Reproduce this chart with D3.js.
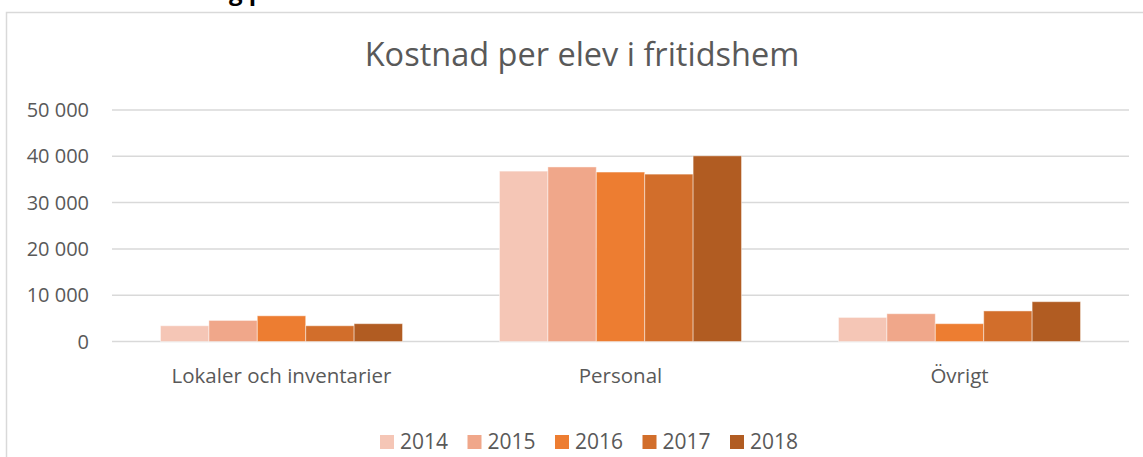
<!DOCTYPE html>
<html>
<head>
<meta charset="utf-8">
<script src="https://cdn.jsdelivr.net/npm/d3@7"></script>
<style>
    body { margin: 0; background: #fff; }
    svg text { font-family: "Open Sans", "Noto Sans", sans-serif; fill: #595959; }
</style>
</head>
<body>
<div class="bar_chart"></div>
<script>
// Data
const categories = ["Lokaler och inventarier", "Personal", "Övrigt"];
const years = ["2014", "2015", "2016", "2017", "2018"];
const values2014 = [3400, 36800, 5200];
const values2015 = [4550, 37700, 6000];
const values2016 = [5550, 36600, 3850];
const values2017 = [3400, 36150, 6600];
const values2018 = [3850, 40100, 8600];
const yTicks = [0, 10000, 20000, 30000, 40000, 50000];
const colors = ["#F5C6B6", "#F0A78A", "#ED7D31", "#D26E2B", "#B15C22"];

const series = [values2014, values2015, values2016, values2017, values2018];

function drawChart() {
    const width = 1143;
    const height = 457;
    const margin = { top: 110, right: 14, bottom: 115, left: 112 };

    const svg = d3.select(".bar_chart")
        .append("svg")
        .attr("width", width)
        .attr("height", height);

    // Chart area border (runs off the right and bottom)
    svg.append("rect")
        .attr("x", 6.5)
        .attr("y", 12.5)
        .attr("width", 1160)
        .attr("height", 480)
        .attr("fill", "none")
        .attr("stroke", "#D9D9D9")
        .attr("stroke-width", 1.5);

    // Heading above the chart, mostly outside the picture
    svg.append("text")
        .attr("x", 229)
        .attr("y", 0)
        .style("font-weight", "bold")
        .style("font-size", "24px")
        .style("fill", "#000")
        .text("g p");

    // Title
    svg.append("text")
        .attr("x", 582)
        .attr("y", 66)
        .attr("text-anchor", "middle")
        .style("font-size", "32.5px")
        .text("Kostnad per elev i fritidshem");

    const x0 = d3.scaleBand()
        .domain(categories)
        .range([margin.left, width - margin.right])
        .paddingInner(0.286)
        .paddingOuter(0.143);

    const x1 = d3.scaleBand()
        .domain(years)
        .range([0, x0.bandwidth()]);

    const y = d3.scaleLinear()
        .domain([0, 50000])
        .range([341.5, 110]);

    const fmt = d3.formatLocale({ thousands: "\u00a0", grouping: [3], decimal: ",", currency: ["", ""] }).format(",d");

    // Gridlines
    svg.append("g")
        .selectAll("line")
        .data(yTicks)
        .join("line")
        .attr("x1", margin.left)
        .attr("x2", width - margin.right)
        .attr("y1", d => y(d))
        .attr("y2", d => y(d))
        .attr("stroke", "#D9D9D9")
        .attr("stroke-width", 1.5);

    // Y labels
    svg.append("g")
        .selectAll("text")
        .data(yTicks)
        .join("text")
        .attr("x", 89)
        .attr("y", d => y(d))
        .attr("dy", "0.35em")
        .attr("text-anchor", "end")
        .style("font-size", "20px")
        .text(d => fmt(d));

    // Bars
    const groups = svg.append("g")
        .selectAll("g")
        .data(categories)
        .join("g")
        .attr("transform", d => `translate(${x0(d)},0)`);

    groups.selectAll("rect")
        .data((c, ci) => years.map((yr, i) => ({ year: yr, value: series[i][ci], i })))
        .join("rect")
        .attr("x", d => x1(d.year))
        .attr("y", d => y(d.value))
        .attr("width", x1.bandwidth())
        .attr("height", d => y(0) - y(d.value))
        .attr("fill", d => colors[d.i])
        .attr("stroke", "rgba(255,255,255,0.45)")
        .attr("stroke-width", 1);

    // Category labels
    svg.append("g")
        .selectAll("text")
        .data(categories)
        .join("text")
        .attr("x", d => x0(d) + x0.bandwidth() / 2)
        .attr("y", 383)
        .attr("text-anchor", "middle")
        .style("font-size", "20.5px")
        .text(d => d);

    // Legend
    const legend = svg.append("g")
        .selectAll("g")
        .data(years)
        .join("g")
        .attr("transform", (d, i) => `translate(${380 + i * 87.5},442)`);

    legend.append("rect")
        .attr("x", 0)
        .attr("y", -7)
        .attr("width", 14)
        .attr("height", 14)
        .attr("fill", (d, i) => colors[i]);

    legend.append("text")
        .attr("x", 20)
        .attr("y", 0)
        .attr("dy", "0.35em")
        .style("font-size", "21px")
        .text(d => d);
}

document.addEventListener("DOMContentLoaded", drawChart);
</script>
</body>
</html>
